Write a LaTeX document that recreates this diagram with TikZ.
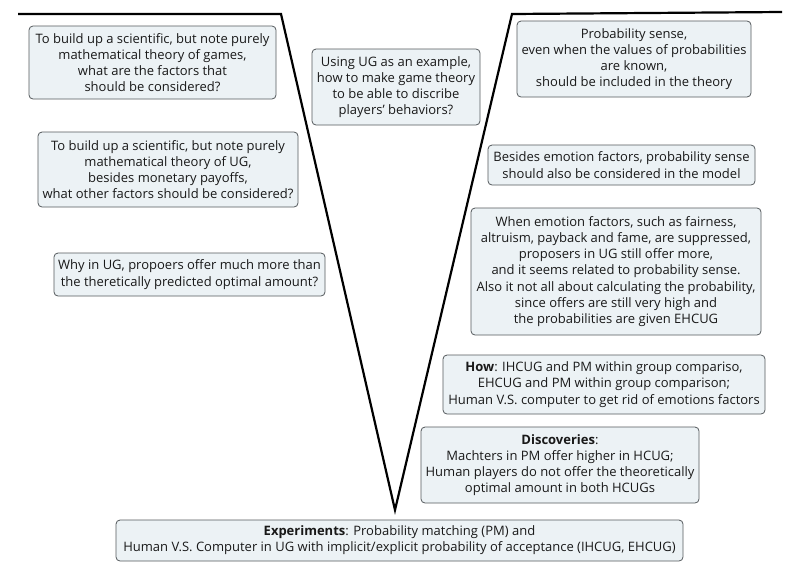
\documentclass[tikz,border=0pt]{standalone}
\usepackage{fontspec}
\setmainfont{Open Sans}
\usetikzlibrary{calc}
\definecolor{BoxClr}{rgb}{0.925,0.95,0.96}
\definecolor{EdgeClr}{rgb}{0.33,0.35,0.36}
\definecolor{TxtClr}{rgb}{0.1,0.1,0.1}

\begin{document}
\begin{tikzpicture}[x=1pt,y=-1pt,
  qbox/.style={draw=EdgeClr,fill=BoxClr,rounded corners=4pt,line width=0.8pt,
    align=center,text=TxtClr,inner sep=3pt,
    font=\fontsize{13}{16.2}\selectfont}]
\useasboundingbox (0,0) rectangle (800,566);

% the V
\coordinate (tl) at (18,14);
\coordinate (vl) at (281,14);
\coordinate (bot) at (395,510);
\coordinate (vr) at (512,14);
\coordinate (tr) at (782,12);
\draw[line width=2.2pt,line join=miter] (tl) -- (vl) -- (bot) -- (vr) -- (tr);

% left arm
\node[qbox,minimum width=247pt,minimum height=73pt] (gameq) at (152.5,62.5)
  {To build up a scientific, but note purely\\mathematical theory of games,\\what are the factors that\\should be considered?};
\node[qbox,minimum width=260pt,minimum height=75pt] (ugq) at (168,169.5)
  {To build up a scientific, but note purely\\mathematical theory of UG,\\besides monetary payoffs,\\what other factors should be considered?};
\node[qbox,minimum width=271pt,minimum height=43pt] (whyq) at (189.5,274.5)
  {Why in UG, propoers offer much more than\\the theretically predicted optimal amount?};

% middle
\node[qbox,minimum width=168pt,minimum height=76pt] (useug) at (396,87)
  {Using UG as an example,\\how to make game theory\\to be able to discribe\\players' behaviors?};

% right arm
\node[qbox,minimum width=234pt,minimum height=76pt] (probsense) at (634,59)
  {Probability sense,\\even when the values of probabilities\\are known,\\should be included in the theory};
\node[qbox,minimum width=267pt,minimum height=40pt] (besides) at (621.5,165)
  {Besides emotion factors, probability sense\\should also be considered in the model};
\node[qbox,minimum width=290pt,minimum height=127pt] (emotion) at (616,271.5)
  {When emotion factors, such as fairness,\\altruism, payback and fame, are suppressed,\\proposers in UG still offer more,\\and it seems related to probability sense.\\Also it not all about calculating the probability,\\since offers are still very high and\\the probabilities are given EHCUG};
\node[qbox,minimum width=322pt,minimum height=59pt] (how) at (604,384.5)
  {\textbf{How}: IHCUG and PM within group compariso,\\EHCUG and PM within group comparison;\\Human V.S. computer to get rid of emotions factors};
\node[qbox,minimum width=278pt,minimum height=76pt] (disc) at (560,465)
  {\textbf{Discoveries}:\\Machters in PM offer higher in HCUG;\\Human players do not offer the theoretically\\optimal amount in both HCUGs};

% bottom
\node[qbox,minimum width=567pt,minimum height=41pt] (exp) at (399.5,540.5)
  {\textbf{Experiments}: Probability matching (PM) and\\Human V.S. Computer in UG with implicit/explicit probability of acceptance (IHCUG, EHCUG)};

\end{tikzpicture}
\end{document}
